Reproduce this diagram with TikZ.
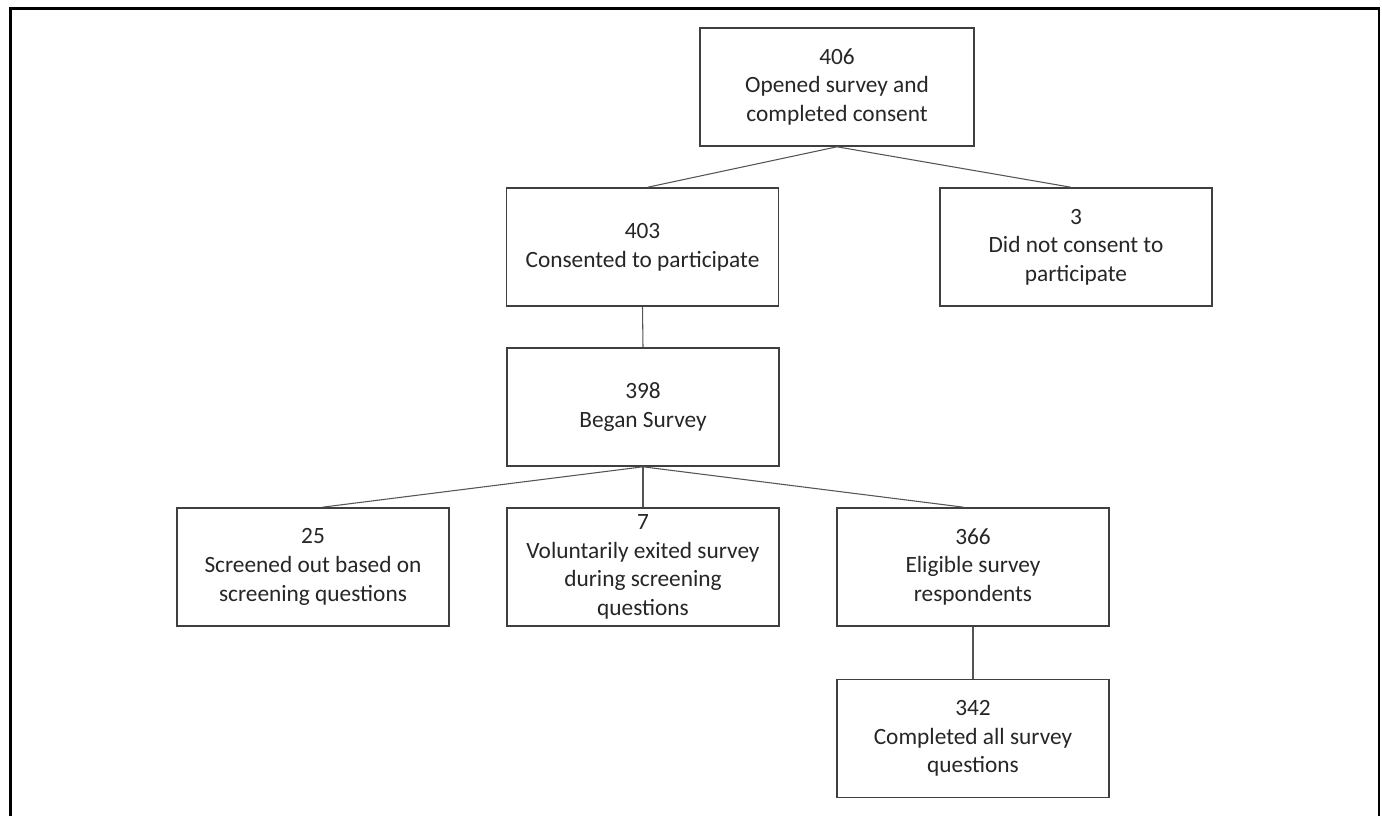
\documentclass[tikz,border=0pt]{standalone}
\usepackage{fontspec}
\setmainfont{Carlito}
\definecolor{boxline}{HTML}{3F3F3F}
\definecolor{conline}{HTML}{555555}
\begin{document}
\begin{tikzpicture}[x=0.75pt,y=-0.75pt,
  box/.style={draw=boxline,line width=1.2pt,fill=white,minimum width=204pt,minimum height=88.5pt,inner sep=0pt,align=center,font=\fontsize{17.5}{21.5}\selectfont,text=black!85},
  con/.style={draw=conline,line width=0.8pt},
  frame/.style={draw=black,line width=2pt}]
\useasboundingbox (0,0) rectangle (1382,816);
\coordinate (fbl) at (10.5,816);
\coordinate (ftl) at (10.5,8.5);
\coordinate (ftr) at (1379,8.5);
\coordinate (fbr) at (1379,816);
\draw[frame] (fbl) -- (ftl) -- (ftr) -- (fbr);
\node[box,minimum width=205.5pt] (n406) at (837,87) {406\\Opened survey and\\completed consent};
\node[box] (n403) at (642.5,247) {403\\Consented to participate};
\node[box] (n3) at (1076,247) {3\\Did not consent to\\participate};
\node[box] (n398) at (643,407) {398\\Began Survey};
\node[box] (n25) at (313,567) {25\\Screened out based on\\screening questions};
\node[box] (n7) at (643,567) {7\\Voluntarily exited survey\\during screening\\questions};
\node[box] (n366) at (973,567) {366\\Eligible survey\\respondents};
\node[box] (n342) at (973,738.5) {342\\Completed all survey\\questions};
\draw[con] (n406.south) -- ([xshift=4pt]n403.north);
\draw[con] (n406.south) -- ([xshift=-4pt]n3.north);
\draw[con] (n403.south) -- (n398.north);
\draw[con] (n398.south) -- ([xshift=7pt]n25.north);
\draw[con] (n398.south) -- (n7.north);
\draw[con] (n398.south) -- ([xshift=-7pt]n366.north);
\draw[con] (n366.south) -- (n342.north);
\end{tikzpicture}
\end{document}
